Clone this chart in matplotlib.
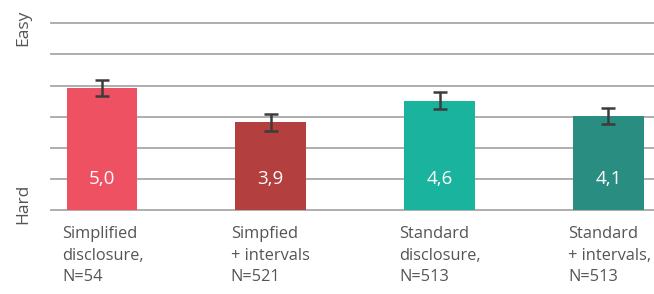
import numpy as np
import matplotlib
matplotlib.use("Agg")
from matplotlib import pyplot as plt

# data
groups = ["Simplified\ndisclosure,\nN=54", "Simpfied\n+ intervals\nN=521",
          "Standard\ndisclosure,\nN=513", "Standard\n+ intervals,\nN=513"]
means = [5.0, 3.9, 4.6, 4.1]
errors = [0.26, 0.28, 0.26, 0.26]
value_labels = ["5,0", "3,9", "4,6", "4,1"]
colors = ["#ee5262", "#b43f3f", "#19b39e", "#2a8d81"]

base = 1.08          # bottom of the 7 point scale as drawn
n_grid = 7

fig = plt.figure(figsize=(6.54, 2.94), dpi=100)
ax = fig.add_axes([51 / 654, (294 - 210.3) / 294, 1 - 51 / 654, (210.3 - 23.3) / 294])

x = np.arange(len(means))
for level in base + np.arange(n_grid):
    ax.axhline(level, color="#a8a8a8", lw=1.3, zorder=0, clip_on=False)

ax.bar(x, np.array(means) - base, bottom=base, width=0.42, color=colors, zorder=2)
ax.errorbar(x, means, yerr=errors, fmt="none", ecolor="#3c3c3c", elinewidth=1.8,
            capsize=5, capthick=1.8, zorder=3)

for xi, lab in zip(x, value_labels):
    ax.text(xi, base + 1, lab, color="white", ha="center", va="center",
            fontsize=13.5, family="Open Sans", zorder=4)

for xi, g in zip(x, groups):
    ax.annotate(g, xy=(xi, base), xycoords="data", xytext=(-40, -16),
                textcoords="offset pixels", ha="left", va="top",
                fontsize=11.8, family="Open Sans", color="#555555",
                linespacing=1.45, annotation_clip=False)

ax.set_xlim(-0.302, 3.27)
ax.set_ylim(base, base + n_grid - 1)
ax.axis("off")

fig.text(23 / 654, 1 - 28 / 294, "Easy", rotation=90, ha="center", va="center",
         fontsize=12.5, family="Open Sans", color="#555555")
fig.text(23 / 654, 1 - 204 / 294, "Hard", rotation=90, ha="center", va="center",
         fontsize=12.5, family="Open Sans", color="#555555")

fig.savefig("out.png", dpi=100)
